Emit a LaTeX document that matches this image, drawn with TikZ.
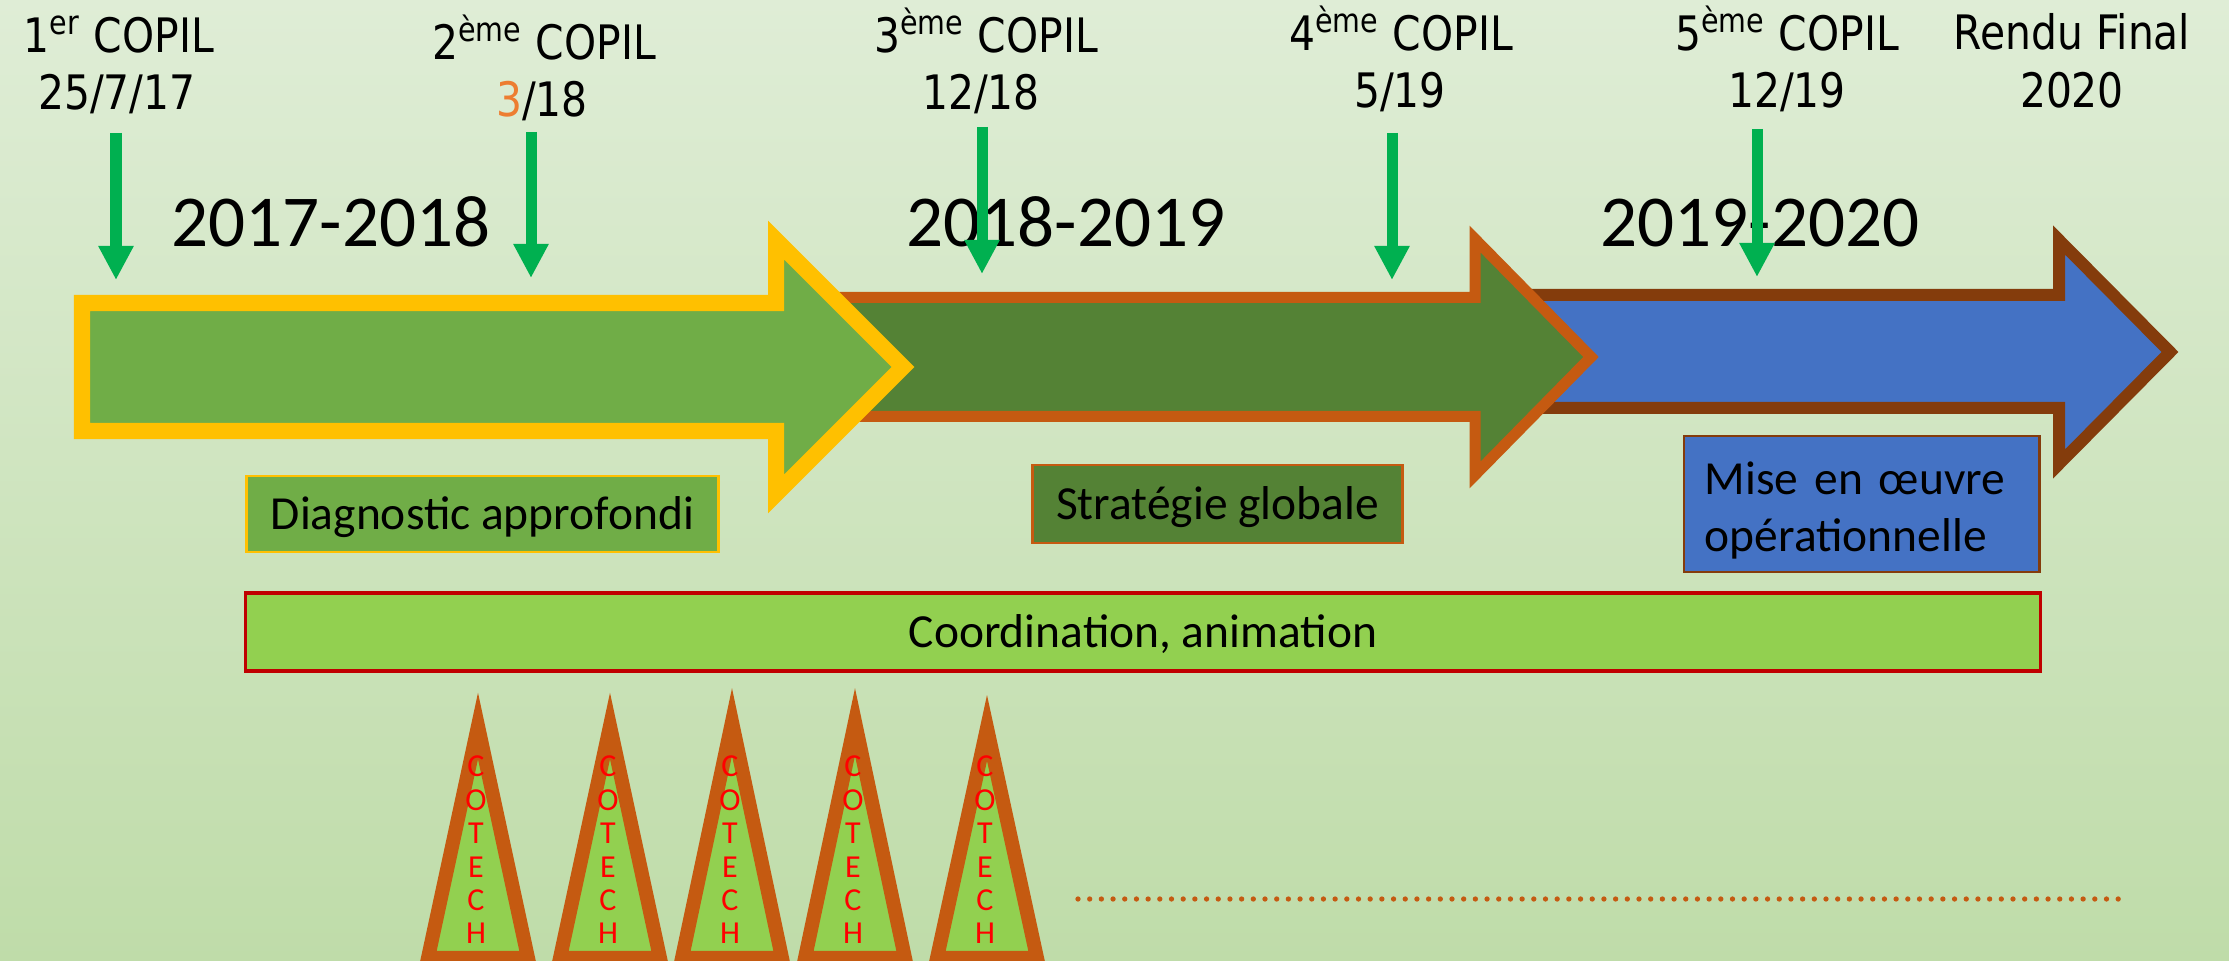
\documentclass[tikz,border=0pt]{standalone}
\usepackage{fontspec}
\setmainfont{Carlito}
\newfontfamily\tah[FakeStretch=0.86]{DejaVu Sans}
\usetikzlibrary{arrows.meta}
\definecolor{bgtop}{HTML}{DFEDD6}
\definecolor{bgbot}{HTML}{BFDCA9}
\definecolor{aOneFill}{HTML}{70AD47}
\definecolor{aOneLine}{HTML}{FFC000}
\definecolor{aTwoFill}{HTML}{548235}
\definecolor{aTwoLine}{HTML}{C55A11}
\definecolor{aThreeFill}{HTML}{4472C4}
\definecolor{aThreeLine}{HTML}{843C0C}
\definecolor{copilgreen}{HTML}{00B050}
\definecolor{coordfill}{HTML}{92D050}
\definecolor{coordline}{HTML}{C00000}
\definecolor{orangetxt}{HTML}{ED7D31}
\tikzset{
  bigarrow/.style={line width=#1, line join=miter, miter limit=10},
  copiltxt/.style={anchor=base, inner sep=0pt, font=\tah\fontsize{13.5}{16}\selectfont},
  yeartxt/.style={anchor=base, inner sep=0pt, font=\fontsize{20.8}{25}\selectfont},
  phasebox/.style={line width=0.8pt, inner sep=0pt, text height=0.33cm, text depth=0.03cm, font=\fontsize{13.5}{16.2}\selectfont},
  misebox/.style={line width=0.8pt, inner ysep=0pt, inner xsep=0.21cm, text width=3.13cm, align=left, minimum width=3.55cm, minimum height=1.36cm, font=\fontsize{13.5}{16.2}\selectfont},
  copilarrow/.style={draw=copilgreen, line width=0.11cm, -{Triangle[length=0.34cm, width=0.33cm]}},
  cotechtri/.style={draw=aTwoLine, fill=coordfill, line width=0.14cm, line join=miter},
  cotechtxt/.style={text=red, align=center, inner sep=0pt, font=\fontsize{9.1}{9.5}\selectfont},
  dotline/.style={draw=aTwoLine, line width=0.053cm, line cap=round, dash pattern={on 0pt off 0.1168cm}}
}
\begin{document}
\begin{tikzpicture}[x=0.01cm,y=-0.01cm]
\clip (0,0) rectangle (2229,961);
\shade[top color=bgtop, bottom color=bgbot] (0,0) rectangle (2229,961);

% big phase arrows
\draw[bigarrow=0.12cm, draw=aThreeLine, fill=aThreeFill] (1485,295) -- (2059,295) -- (2059,240) -- (2170,352) -- (2059,464) -- (2059,408) -- (1485,408) -- cycle;
\draw[bigarrow=0.11cm, draw=aTwoLine, fill=aTwoFill] (790,297.5) -- (1475,297.5) -- (1475,239) -- (1591,357) -- (1475,475) -- (1475,416.5) -- (790,416.5) -- cycle;
\draw[bigarrow=0.16cm, draw=aOneLine, fill=aOneFill] (82,303) -- (776,303) -- (776,240) -- (903,367) -- (776,494) -- (776,431) -- (82,431) -- cycle;

% years
\node[yeartxt] (y1) at (331,247) {2017-2018};
\node[yeartxt] (y2) at (1066,247) {2018-2019};
\node[yeartxt] (y3) at (1760,247) {2019-2020};

% COPIL labels
\node[copiltxt] (c1a) at (119,53) {1\textsuperscript{er} COPIL};
\node[copiltxt] (c1b) at (117,110) {25/7/17};
\node[copiltxt] (c2a) at (544,60) {2\textsuperscript{ème} COPIL};
\node[copiltxt] (c2b) at (542,117) {\textcolor{orangetxt}{3}/18};
\node[copiltxt] (c3a) at (986,53) {3\textsuperscript{ème} COPIL};
\node[copiltxt] (c3b) at (981,110) {12/18};
\node[copiltxt] (c4a) at (1401,51) {4\textsuperscript{ème} COPIL};
\node[copiltxt] (c4b) at (1400,108) {5/19};
\node[copiltxt] (c5a) at (1787,51) {5\textsuperscript{ème} COPIL};
\node[copiltxt] (c5b) at (1787,108) {12/19};
\node[copiltxt] (rfa) at (2072,50) {Rendu Final};
\node[copiltxt] (rfb) at (2072,108) {2020};

% green COPIL arrows
\coordinate (g1s) at (116,133); \coordinate (g1e) at (116,280);
\coordinate (g2s) at (531,132); \coordinate (g2e) at (531,278);
\coordinate (g3s) at (982,127); \coordinate (g3e) at (982,274);
\coordinate (g4s) at (1392,133); \coordinate (g4e) at (1392,280);
\coordinate (g5s) at (1757,129); \coordinate (g5e) at (1757,277);
\draw[copilarrow] (g1s) -- (g1e);
\draw[copilarrow] (g2s) -- (g2e);
\draw[copilarrow] (g3s) -- (g3e);
\draw[copilarrow] (g4s) -- (g4e);
\draw[copilarrow] (g5s) -- (g5e);

% phase boxes
\node[phasebox, draw=aOneLine, fill=aOneFill, minimum width=4.71cm, minimum height=0.76cm] (diag) at (482.5,514) {Diagnostic approfondi};
\node[phasebox, draw=aTwoLine, fill=aTwoFill, minimum width=3.69cm, minimum height=0.78cm] (strat) at (1217.5,504) {Stratégie globale};
\node[misebox, draw=aThreeLine, fill=aThreeFill] (mise) at (1861.5,504) {\rule{0pt}{0.45cm}Mise en œuvre\\opérationnelle};
\node[phasebox, draw=coordline, fill=coordfill, line width=1pt, minimum width=17.94cm, minimum height=0.78cm] (coord) at (1143,632) {Coordination, animation};

% COTECH triangles
\foreach \cx/\ap/\nm in {478/726/t1, 610/726/t2, 732/722/t3, 855/722/t4, 987/728/t5}{
  \draw[cotechtri] (\cx,\ap) -- (\cx+50,958) -- (\cx-50,958) -- cycle;
  \node[cotechtxt] (\nm) at (\cx-2,850) {C\\O\\T\\E\\C\\H};
}

% dotted continuation
\coordinate (ds) at (1078,899);
\coordinate (de) at (2129,899);
\draw[dotline] (ds) -- (de);
\end{tikzpicture}
\end{document}
